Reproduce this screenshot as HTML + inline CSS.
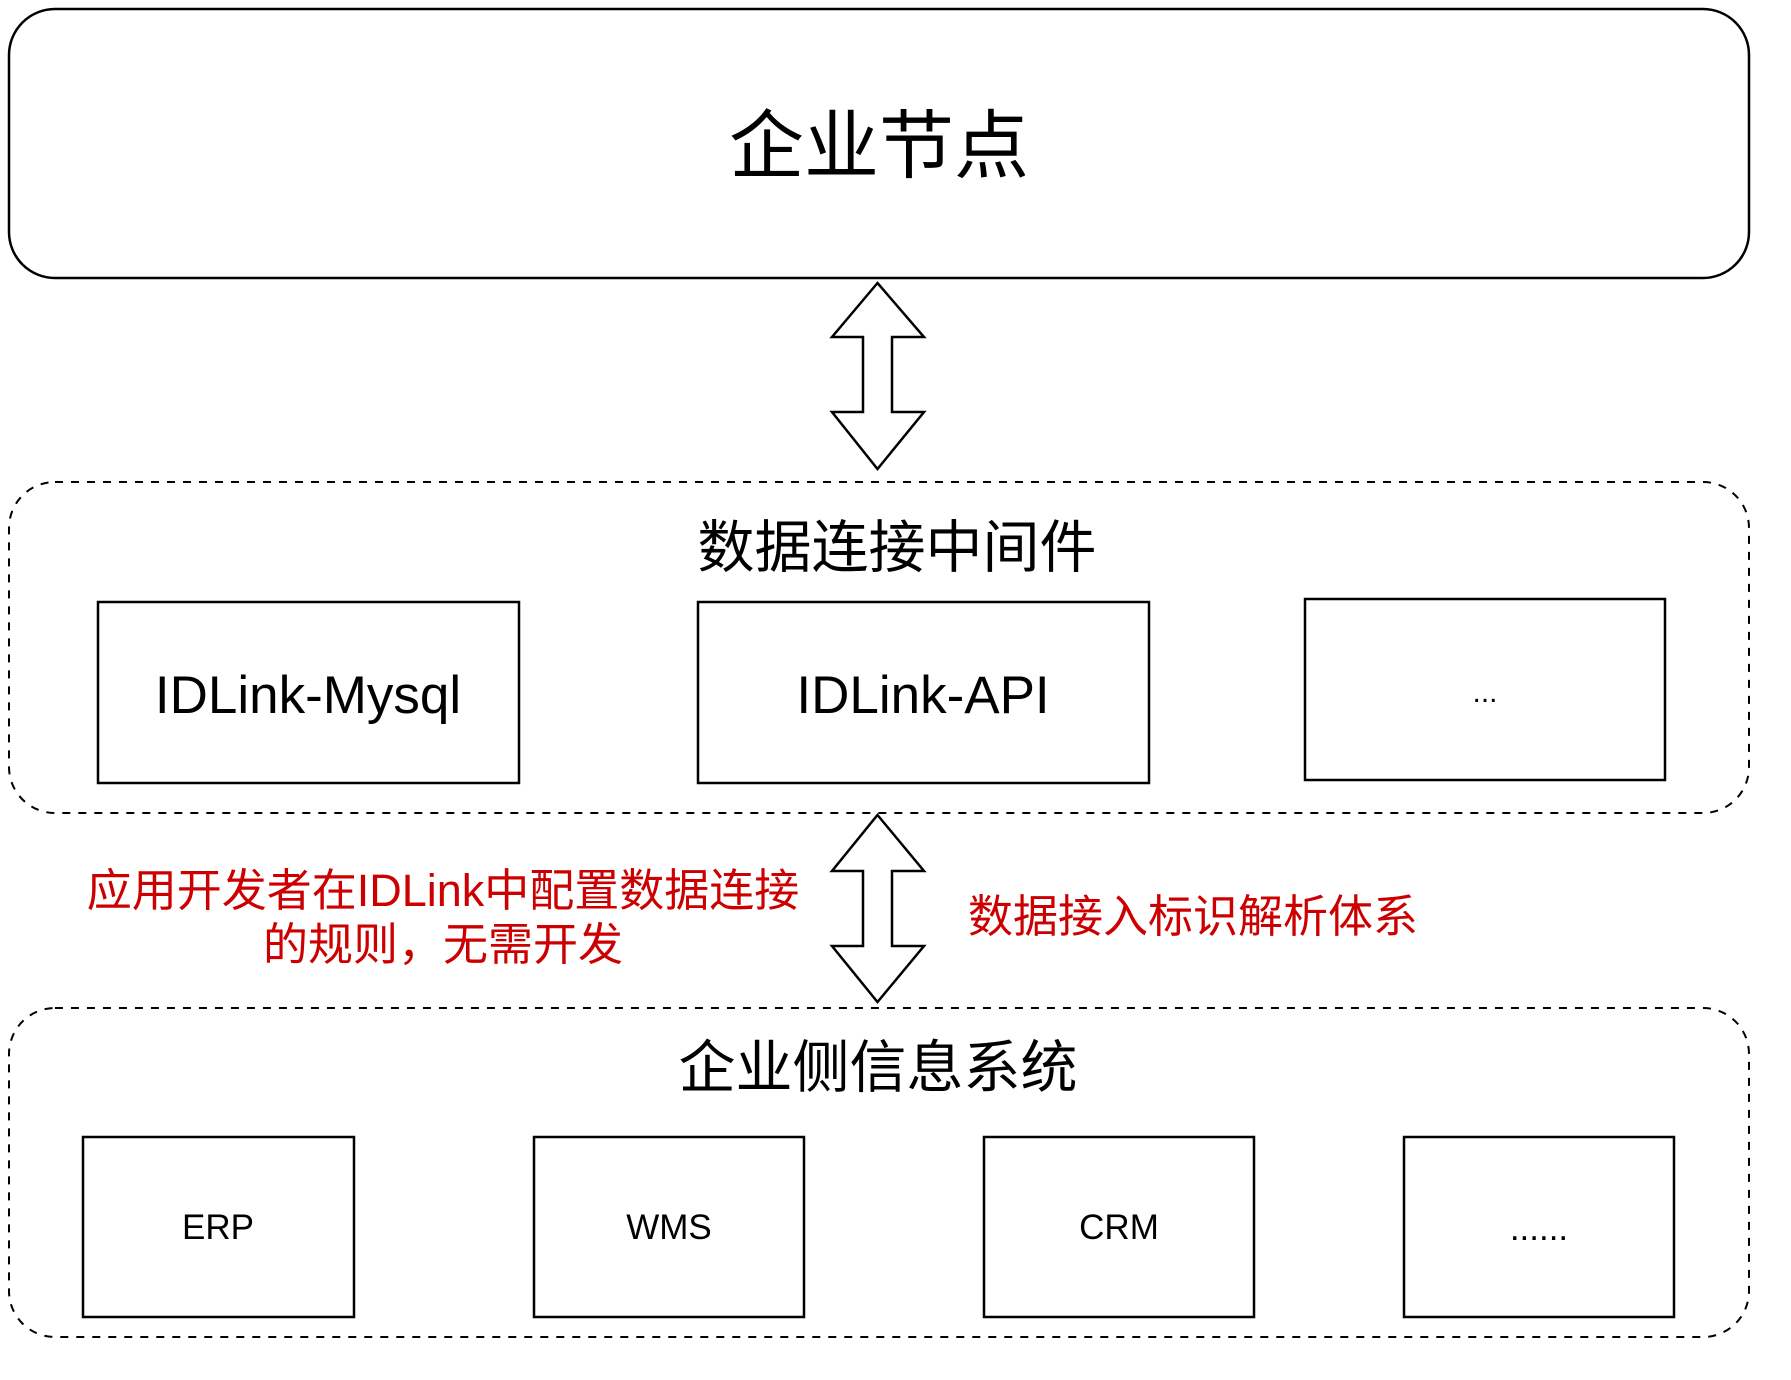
<!DOCTYPE html>
<html><head><meta charset="utf-8"><style>
html,body{margin:0;padding:0;background:#fff;}
svg{display:block;}
text{font-family:"Liberation Sans","Noto Sans CJK SC",sans-serif;}
</style></head><body>
<svg width="1791" height="1380" viewBox="0 0 1791 1380" xmlns="http://www.w3.org/2000/svg">
<rect x="9" y="9" width="1740" height="269" rx="46" fill="#fff" stroke="#000" stroke-width="2.5"/>
<text x="879" y="172" font-size="75" text-anchor="middle">企业节点</text>

<polygon points="877.5,283 924,337 892,337 892,412 924,412 877.5,469 832,412 863,412 863,337 832,337" fill="#fff" stroke="#000" stroke-width="2.5" stroke-linejoin="miter"/>

<rect x="9" y="482" width="1740" height="331" rx="46" fill="none" stroke="#000" stroke-width="2" stroke-dasharray="8,8"/>
<text x="897" y="567" font-size="57" text-anchor="middle">数据连接中间件</text>
<rect x="98" y="602" width="421" height="181" fill="#fff" stroke="#000" stroke-width="2.5"/>
<text x="308" y="713" font-size="53" text-anchor="middle">IDLink-Mysql</text>
<rect x="698" y="602" width="451" height="181" fill="#fff" stroke="#000" stroke-width="2.5"/>
<text x="923" y="713" font-size="53" text-anchor="middle">IDLink-API</text>
<rect x="1305" y="599" width="360" height="181" fill="#fff" stroke="#000" stroke-width="2.5"/>
<text x="1485" y="702" font-size="30" text-anchor="middle">...</text>

<polygon points="877.5,815 924,871 892,871 892,946 924,946 877.5,1002 832,946 863,946 863,871 832,871" fill="#fff" stroke="#000" stroke-width="2.5"/>

<text x="443" y="906" font-size="45" fill="#cc0000" text-anchor="middle">应用开发者在IDLink中配置数据连接</text>
<text x="443" y="960" font-size="45" fill="#cc0000" text-anchor="middle">的规则，无需开发</text>
<text x="1193" y="932" font-size="45" fill="#cc0000" text-anchor="middle">数据接入标识解析体系</text>

<rect x="9" y="1008" width="1740" height="329" rx="46" fill="none" stroke="#000" stroke-width="2" stroke-dasharray="8,8"/>
<text x="878" y="1087" font-size="57" text-anchor="middle">企业侧信息系统</text>
<rect x="83" y="1137" width="271" height="180" fill="#fff" stroke="#000" stroke-width="2.5"/>
<text x="218" y="1239" font-size="35" text-anchor="middle">ERP</text>
<rect x="534" y="1137" width="270" height="180" fill="#fff" stroke="#000" stroke-width="2.5"/>
<text x="669" y="1239" font-size="35" text-anchor="middle">WMS</text>
<rect x="984" y="1137" width="270" height="180" fill="#fff" stroke="#000" stroke-width="2.5"/>
<text x="1119" y="1239" font-size="35" text-anchor="middle">CRM</text>
<rect x="1404" y="1137" width="270" height="180" fill="#fff" stroke="#000" stroke-width="2.5"/>
<text x="1539" y="1240" font-size="35" text-anchor="middle">......</text>
</svg>
</body></html>
